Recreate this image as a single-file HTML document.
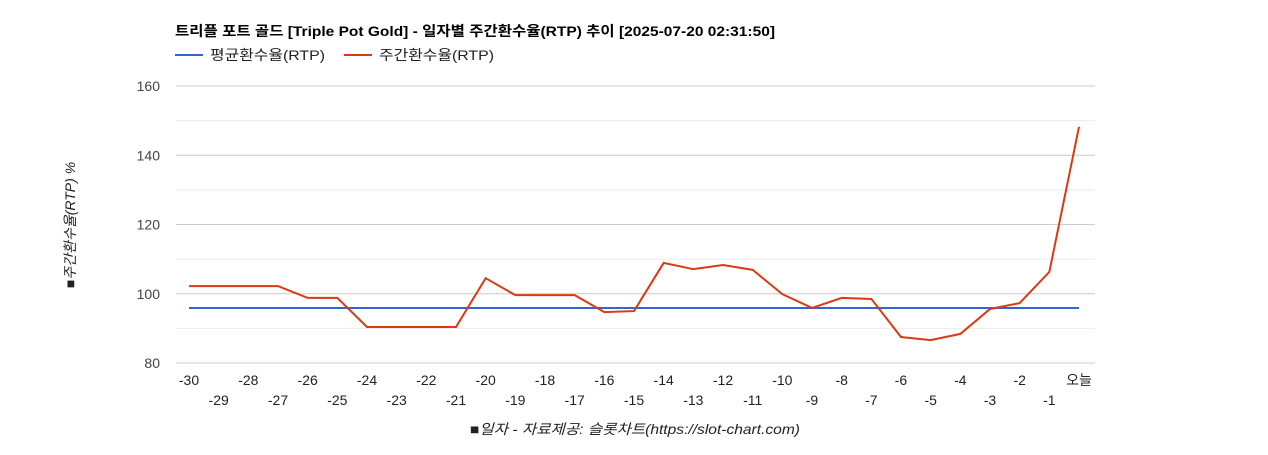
<!DOCTYPE html>
<html><head><meta charset="utf-8"><style>
body{margin:0;background:#fff;font-family:"Liberation Sans","Noto Sans CJK KR",sans-serif;}
svg text{font-family:"Liberation Sans","Noto Sans CJK KR",sans-serif;}
</style></head><body>
<svg id="chart" width="1268" height="450">
<text x="175" y="36" font-size="14" font-weight="bold" fill="#000" textLength="600" lengthAdjust="spacingAndGlyphs">트리플 포트 골드 [Triple Pot Gold] - 일자별 주간환수율(RTP) 추이 [2025-07-20 02:31:50]</text>
<g><line x1="175" y1="55" x2="203" y2="55" stroke="#3366cc" stroke-width="2"/><text x="210" y="60" font-size="14" fill="#222" textLength="115" lengthAdjust="spacingAndGlyphs">평균환수율(RTP)</text></g>
<g><line x1="344" y1="55" x2="372" y2="55" stroke="#dc3912" stroke-width="2"/><text x="379" y="60" font-size="14" fill="#222" textLength="115" lengthAdjust="spacingAndGlyphs">주간환수율(RTP)</text></g>
<text transform="translate(75,225) rotate(-90)" text-anchor="middle" font-size="14" font-style="italic" fill="#222">■주간환수율(RTP) %</text>
<text x="470" y="434" font-size="14" font-style="italic" fill="#222" textLength="330" lengthAdjust="spacingAndGlyphs">■일자 - 자료제공: 슬롯차트(https://slot-chart.com)</text>
<g id="grid"></g><g id="series"></g><g id="labels"></g>
</svg>
<script>
const categories=["-30","-29","-28","-27","-26","-25","-24","-23","-22","-21","-20","-19","-18","-17","-16","-15","-14","-13","-12","-11","-10","-9","-8","-7","-6","-5","-4","-3","-2","-1","오늘"];
const weeklyRtp=[102.2,102.2,102.2,102.2,98.8,98.8,90.4,90.4,90.4,90.4,104.5,99.6,99.6,99.6,94.7,95.0,108.9,107.1,108.3,106.9,99.9,95.9,98.8,98.5,87.5,86.6,88.4,95.6,97.3,106.3,148.2];
const averageRtp=95.9;
const yTicks=[80,100,120,140,160];
const NS="http://www.w3.org/2000/svg";
const X0=176,X1=1095,Y0=363,Y1=86,ymin=80,ymax=160;
const xs=i=>189+i*(1079-189)/(categories.length-1);
const ys=v=>Y0-(v-ymin)/(ymax-ymin)*(Y0-Y1);
function mk(t,a,p){const e=document.createElementNS(NS,t);for(const k in a)e.setAttribute(k,a[k]);p.appendChild(e);return e;}
const grid=document.getElementById('grid'),ser=document.getElementById('series'),lab=document.getElementById('labels');
for(let v=ymin;v<=ymax;v+=10){
 const l=mk('line',{x1:X0,x2:X1,y1:ys(v),y2:ys(v),stroke:v%20===0?'#ccc':'#ebebeb','stroke-width':1},grid);
 
 
}
yTicks.forEach(v=>{const t=mk('text',{x:160,y:ys(v)+5,'text-anchor':'end','font-size':14,fill:'#444'},lab);t.textContent=v;
 
 });
categories.forEach((c,i)=>{const t=mk('text',{x:xs(i),y:i%2===0?385:405,'text-anchor':'middle','font-size':14,fill:'#222'},lab);t.textContent=c;
 
 });
const avg=mk('line',{x1:xs(0),x2:xs(categories.length-1),y1:ys(averageRtp),y2:ys(averageRtp),stroke:'#3366cc','stroke-width':2},ser);


const pl=mk('polyline',{points:weeklyRtp.map((v,i)=>xs(i)+','+ys(v)).join(' '),fill:'none',stroke:'#dc3912','stroke-width':2},ser);


</script>
</body></html>
